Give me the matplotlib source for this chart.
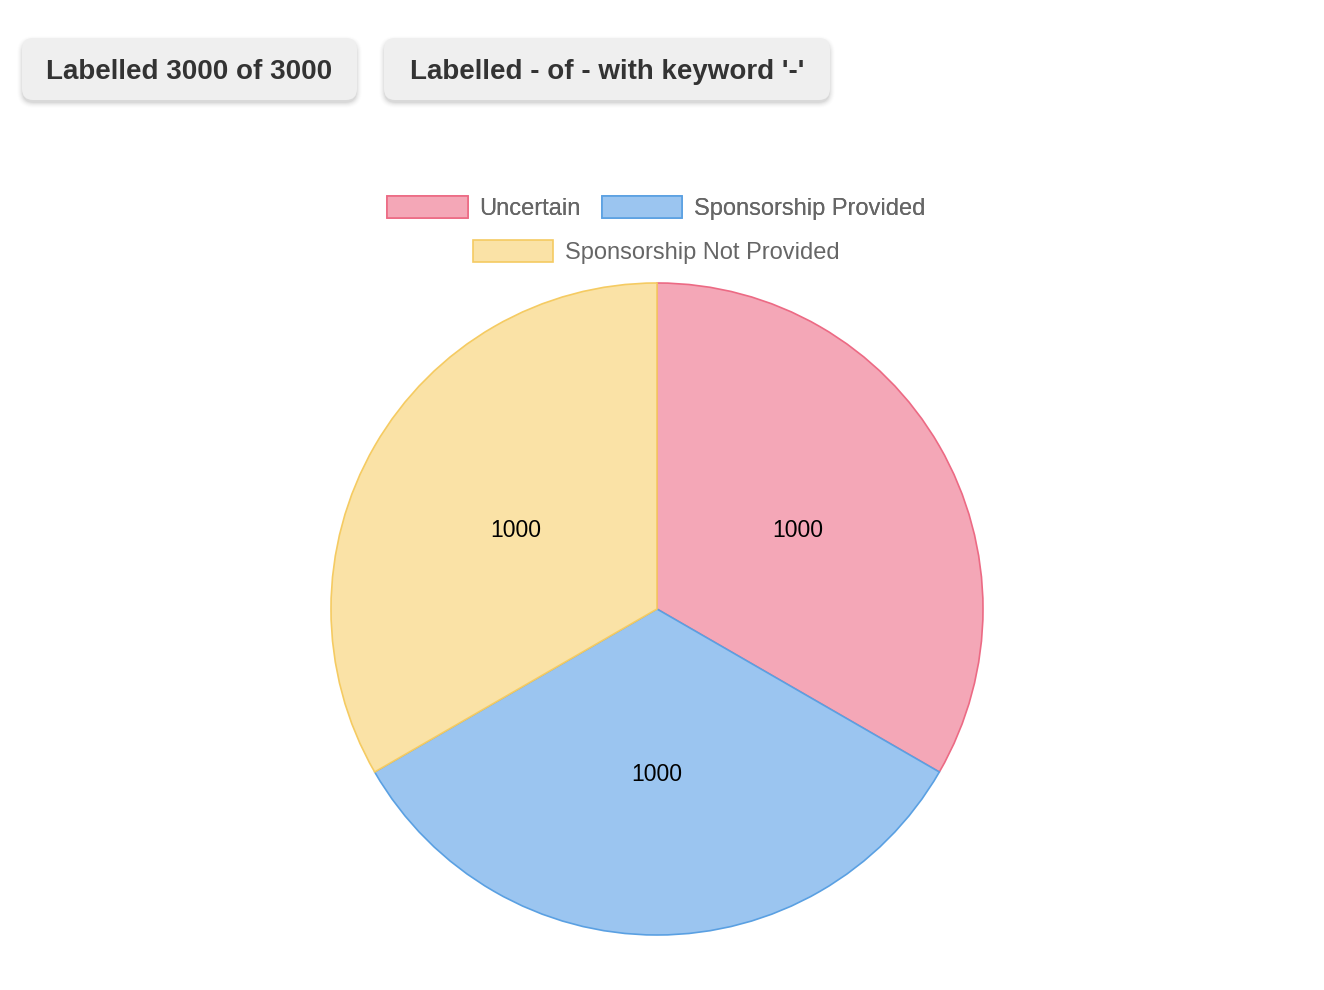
import matplotlib.pyplot as plt
from matplotlib.patches import FancyBboxPatch

# chart data
labels = ["Uncertain", "Sponsorship Provided", "Sponsorship Not Provided"]
counts = [1000, 1000, 1000]
fill_colors = ["#f4a7b7", "#9bc5f0", "#fae2a6"]
edge_colors = ["#ec6a84", "#5aa0e2", "#f5cb62"]
buttons = ["Labelled 3000 of 3000", "Labelled - of - with keyword '-'"]

W, H = 1324, 990
plt.rcParams["font.family"] = ["Liberation Sans", "DejaVu Sans"]

fig = plt.figure(figsize=(W / 100, H / 100), dpi=100)
ax = fig.add_axes([0, 0, 1, 1])


def fy(py):
    # screen pixel row -> data y
    return H - py


def button(x0, x1, text):
    y0, y1 = 38, 100
    # soft shadow
    for i, a in enumerate([0.045, 0.035, 0.028, 0.02, 0.014, 0.008]):
        g = i + 1
        sh = FancyBboxPatch((x0 - g + 1, fy(y1 + 2 + g)), x1 - x0 + 2 * g - 2, y1 - y0 + 2 * g - 2,
                            boxstyle="round,pad=0,rounding_size=%d" % (11 + g),
                            facecolor="black", edgecolor="none", alpha=a)
        ax.add_patch(sh)
    box = FancyBboxPatch((x0, fy(y1)), x1 - x0, y1 - y0,
                         boxstyle="round,pad=0,rounding_size=11",
                         facecolor="#efefef", edgecolor="none")
    ax.add_patch(box)
    ax.text((x0 + x1) / 2, fy((y0 + y1) / 2 + 3), text, ha="center", va="center",
            fontsize=20, fontweight="bold", color="#333333")


button(22, 357, buttons[0])
button(384, 830, buttons[1])

wedges, _, autotexts = ax.pie(counts, colors=fill_colors, center=(657, fy(609)), radius=326,
                              startangle=90, counterclock=False,
                              autopct=lambda p: "%d" % round(p * sum(counts) / 100),
                              pctdistance=0.5, frame=True,
                              wedgeprops=dict(linewidth=1.2),
                              textprops=dict(fontsize=16.5, color="black"))
for w, ec in zip(wedges, edge_colors):
    w.set_edgecolor(ec)
for t in autotexts:
    t.set_y(t.get_position()[1] - 3)
ax.set_xlim(0, W)
ax.set_ylim(0, H)
ax.axis("off")

common = dict(loc="center", frameon=False, fontsize=17, handlelength=3.4, handleheight=1.05,
              handletextpad=0.5, columnspacing=0.9, borderpad=0, labelcolor="#666666")
leg1 = fig.legend(wedges[:2], labels[:2], ncol=2, bbox_to_anchor=(656.5 / W, 1 - 208 / H), **common)
fig.add_artist(leg1)
fig.legend(wedges[2:], labels[2:], ncol=1, bbox_to_anchor=(656.5 / W, 1 - 252 / H), **common)

fig.savefig("out.png", dpi=100)
